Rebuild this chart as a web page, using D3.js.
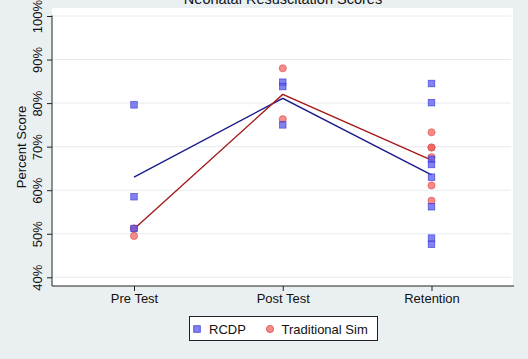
<!DOCTYPE html>
<html>
<head>
<meta charset="utf-8">
<script src="https://cdn.jsdelivr.net/npm/d3@7/dist/d3.min.js"></script>
<style>
  html, body { margin: 0; padding: 0; background: #eaf0f2; }
  svg { display: block; font-family: "Liberation Sans", Arial, sans-serif; }
</style>
</head>
<body>
<svg id="chart" width="528" height="359"></svg>
<script>
// ---- data ----
const categories = ["Pre Test", "Post Test", "Retention"];
const yTicks = [40, 50, 60, 70, 80, 90, 100];
const yTickLabels = ["40%", "50%", "60%", "70%", "80%", "90%", "100%"];
const rcdpScores = [
  [79.6, 58.5, 51.2],
  [84.8, 83.8, 75.0],
  [84.5, 80.1, 67.1, 65.9, 63.0, 56.2, 49.0, 47.6]
];
const tradScores = [
  [51.2, 51.2, 49.5],
  [88.0, 76.3],
  [73.3, 69.8, 69.8, 67.6, 61.1, 57.6]
];
const rcdpMean = [63.0, 81.1, 63.5];
const tradMean = [51.1, 82.0, 66.9];
const title = "Neonatal Resuscitation Scores";
const yTitle = "Percent Score";
const seriesNames = ["RCDP", "Traditional Sim"];

// ---- layout ----
const svg = d3.select("#chart");
const W = 528, H = 359;
const plot = { left: 52, right: 513, top: 8, bottom: 286 };

svg.append("rect").attr("width", W).attr("height", H).attr("fill", "#eaf0f2");
svg.append("rect")
  .attr("x", plot.left).attr("y", plot.top)
  .attr("width", plot.right - plot.left).attr("height", plot.bottom - plot.top)
  .attr("fill", "#ffffff");

const x = d3.scalePoint().domain(categories).range([134, 431.5]);
const y = d3.scaleLinear().domain([40, 100]).range([277.3, 16]);

// grid
svg.append("g").selectAll("line").data(yTicks).join("line")
  .attr("x1", plot.left).attr("x2", plot.right - 2)
  .attr("y1", d => y(d)).attr("y2", d => y(d))
  .attr("stroke", "#e6ebee").attr("stroke-width", 1);

// y axis
const yAxis = svg.append("g").attr("transform", `translate(${plot.left},0)`)
  .call(d3.axisLeft(y).tickValues(yTicks).tickSize(5)
    .tickFormat((d, i) => yTickLabels[i]));
yAxis.select(".domain").remove();
yAxis.selectAll(".tick line").attr("stroke", "#222");
yAxis.selectAll(".tick text")
  .attr("transform", "rotate(-90)")
  .attr("x", 0).attr("y", -10).attr("dy", 0)
  .attr("text-anchor", "middle")
  .attr("font-size", 13).attr("fill", "#111")
  .style("font-family", "'Liberation Sans', Arial, sans-serif");

// x axis
const xAxis = svg.append("g").attr("transform", `translate(0,${plot.bottom})`)
  .call(d3.axisBottom(x).tickSize(5).tickPadding(3));
xAxis.select(".domain").remove();
xAxis.selectAll(".tick line").attr("stroke", "#222");
xAxis.selectAll(".tick text")
  .attr("font-size", 13).attr("fill", "#111")
  .style("font-family", "'Liberation Sans', Arial, sans-serif");

// axis lines
svg.append("line").attr("x1", plot.left).attr("x2", plot.left)
  .attr("y1", y(100) - 0.5).attr("y2", plot.bottom)
  .attr("stroke", "#222").attr("stroke-width", 1);
svg.append("line").attr("x1", plot.left).attr("x2", plot.right + 1)
  .attr("y1", plot.bottom).attr("y2", plot.bottom)
  .attr("stroke", "#222").attr("stroke-width", 1);

// titles
svg.append("text").attr("x", 283).attr("y", 3.5)
  .attr("text-anchor", "middle").attr("font-size", 14.5).attr("fill", "#111")
  .text(title);
svg.append("text")
  .attr("transform", `translate(26,${147}) rotate(-90)`)
  .attr("text-anchor", "middle").attr("font-size", 13).attr("fill", "#111")
  .text(yTitle);

// lines (means)
const line = d3.line().x((d, i) => x(categories[i])).y(d => y(d));
svg.append("path").datum(rcdpMean).attr("d", line)
  .attr("fill", "none").attr("stroke", "#1a1a8c").attr("stroke-width", 1.4);
svg.append("path").datum(tradMean).attr("d", line)
  .attr("fill", "none").attr("stroke", "#a51a1a").attr("stroke-width", 1.4);

// points
const sq = 6.5;
const rcdpPts = rcdpScores.flatMap((arr, i) => arr.map(v => ({ c: categories[i], v })));
const tradPts = tradScores.flatMap((arr, i) => arr.map(v => ({ c: categories[i], v })));

svg.append("g").selectAll("circle").data(tradPts).join("circle")
  .attr("cx", d => x(d.c)).attr("cy", d => y(d.v)).attr("r", 3.6)
  .attr("fill", "#f05a5a").attr("fill-opacity", 0.7)
  .attr("stroke", "#e04848").attr("stroke-opacity", 0.7).attr("stroke-width", 0.8);

svg.append("g").selectAll("rect").data(rcdpPts).join("rect")
  .attr("x", d => x(d.c) - sq / 2).attr("y", d => y(d.v) - sq / 2)
  .attr("width", sq).attr("height", sq)
  .attr("fill", "#5a5aeb").attr("fill-opacity", 0.75)
  .attr("stroke", "#3a3ad8").attr("stroke-opacity", 0.8).attr("stroke-width", 0.8);

// legend
const lg = svg.append("g");
lg.append("rect").attr("x", 189.5).attr("y", 316.5).attr("width", 188).attr("height", 24)
  .attr("fill", "#fff").attr("stroke", "#222").attr("stroke-width", 1);
lg.append("rect").attr("x", 197 - sq / 2).attr("y", 329 - sq / 2).attr("width", sq).attr("height", sq)
  .attr("fill", "#5a5aeb").attr("fill-opacity", 0.75).attr("stroke", "#3a3ad8").attr("stroke-width", 0.8);
lg.append("text").attr("x", 209).attr("y", 333.5).attr("font-size", 13).attr("fill", "#111")
  .text(seriesNames[0]);
lg.append("circle").attr("cx", 270).attr("cy", 329).attr("r", 3.6)
  .attr("fill", "#f05a5a").attr("fill-opacity", 0.7).attr("stroke", "#e04848").attr("stroke-width", 0.8);
lg.append("text").attr("x", 281.5).attr("y", 333.5).attr("font-size", 13).attr("fill", "#111")
  .text(seriesNames[1]);
</script>
</body>
</html>
